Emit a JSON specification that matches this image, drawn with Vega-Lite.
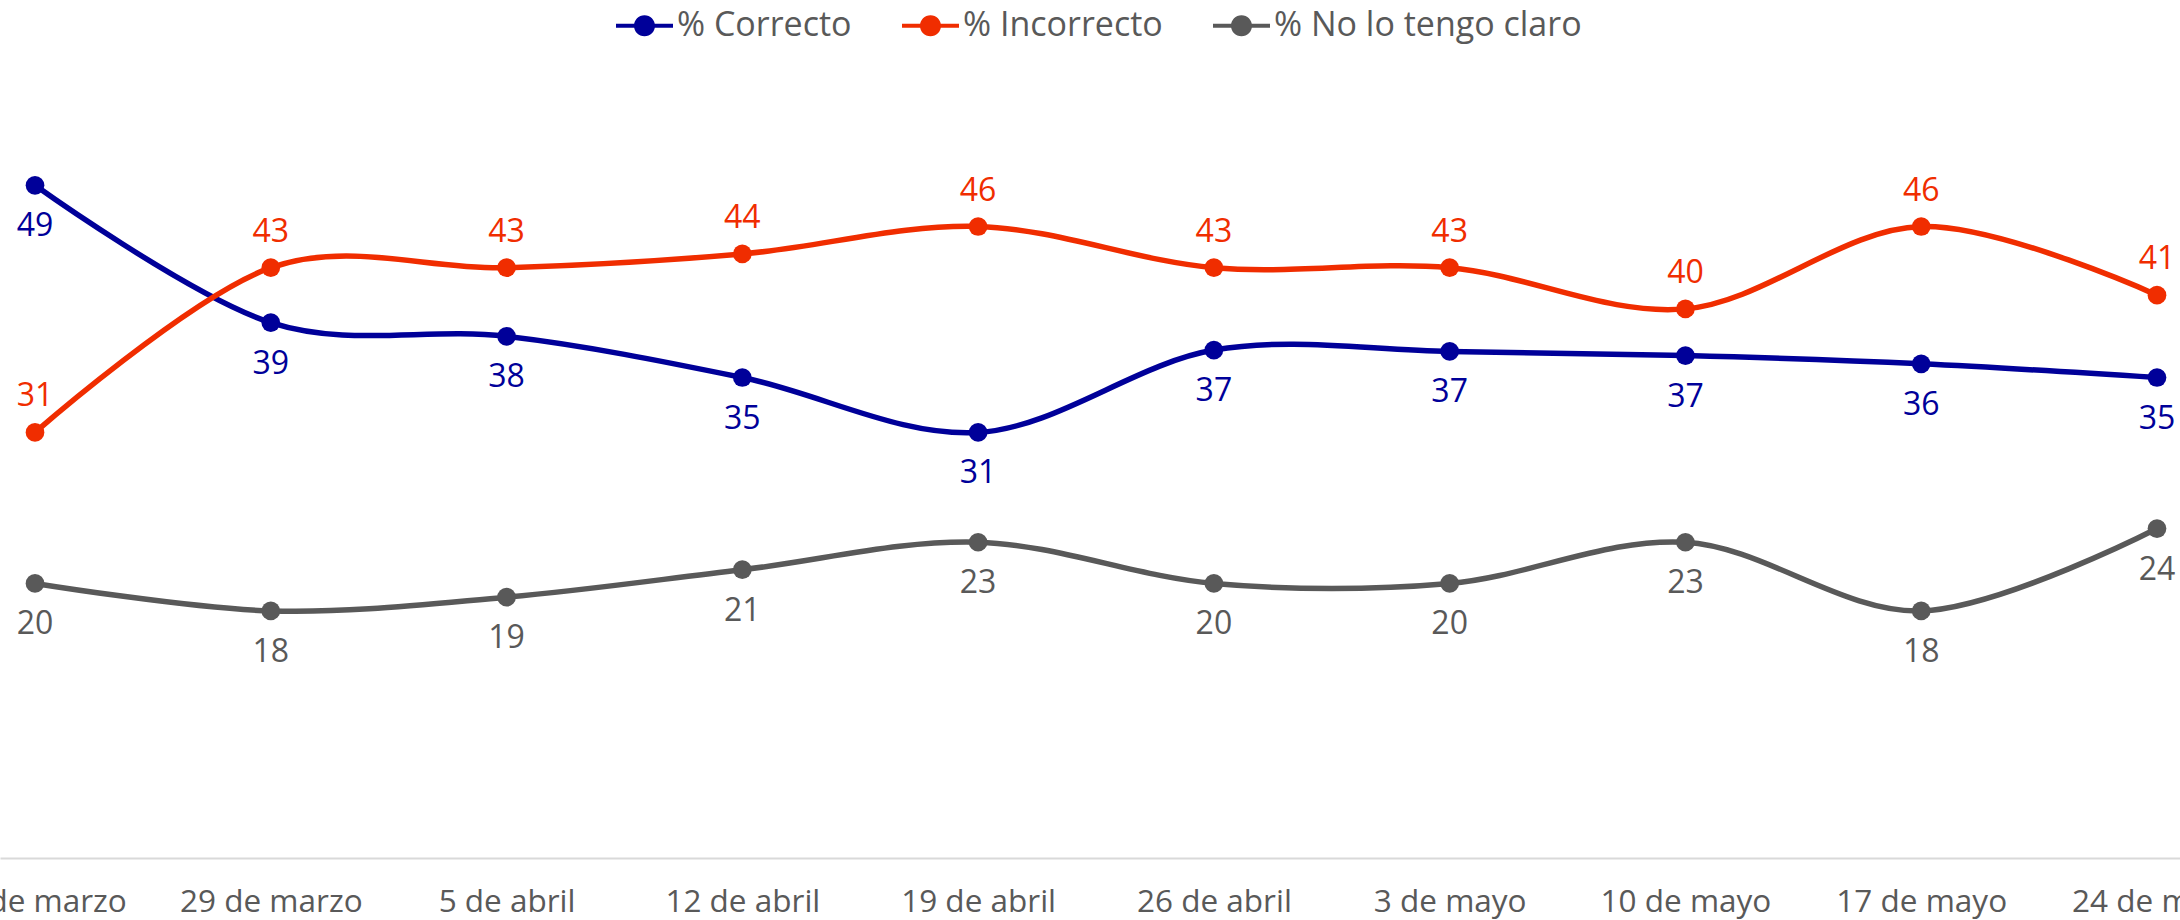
{
  "$schema": "https://vega.github.io/schema/vega-lite/v6.json",
  "width": 2192,
  "height": 858,
  "autosize": {"type": "none"},
  "padding": {"left": 0, "top": 0, "right": -12, "bottom": 62},
  "background": "white",
  "config": {"view": {"stroke": null}, "font": "Open Sans"},
  "data": {
    "values": [
      {"fecha": "22 de marzo", "serie": "% Correcto", "pct": 49},
      {"fecha": "29 de marzo", "serie": "% Correcto", "pct": 39},
      {"fecha": "5 de abril", "serie": "% Correcto", "pct": 38},
      {"fecha": "12 de abril", "serie": "% Correcto", "pct": 35},
      {"fecha": "19 de abril", "serie": "% Correcto", "pct": 31},
      {"fecha": "26 de abril", "serie": "% Correcto", "pct": 37},
      {"fecha": "3 de mayo", "serie": "% Correcto", "pct": 36.9},
      {"fecha": "10 de mayo", "serie": "% Correcto", "pct": 36.6},
      {"fecha": "17 de mayo", "serie": "% Correcto", "pct": 36},
      {"fecha": "24 de mayo", "serie": "% Correcto", "pct": 35},
      {"fecha": "22 de marzo", "serie": "% Incorrecto", "pct": 31},
      {"fecha": "29 de marzo", "serie": "% Incorrecto", "pct": 43},
      {"fecha": "5 de abril", "serie": "% Incorrecto", "pct": 43},
      {"fecha": "12 de abril", "serie": "% Incorrecto", "pct": 44},
      {"fecha": "19 de abril", "serie": "% Incorrecto", "pct": 46},
      {"fecha": "26 de abril", "serie": "% Incorrecto", "pct": 43},
      {"fecha": "3 de mayo", "serie": "% Incorrecto", "pct": 43},
      {"fecha": "10 de mayo", "serie": "% Incorrecto", "pct": 40},
      {"fecha": "17 de mayo", "serie": "% Incorrecto", "pct": 46},
      {"fecha": "24 de mayo", "serie": "% Incorrecto", "pct": 41},
      {"fecha": "22 de marzo", "serie": "% No lo tengo claro", "pct": 20},
      {"fecha": "29 de marzo", "serie": "% No lo tengo claro", "pct": 18},
      {"fecha": "5 de abril", "serie": "% No lo tengo claro", "pct": 19},
      {"fecha": "12 de abril", "serie": "% No lo tengo claro", "pct": 21},
      {"fecha": "19 de abril", "serie": "% No lo tengo claro", "pct": 23},
      {"fecha": "26 de abril", "serie": "% No lo tengo claro", "pct": 20},
      {"fecha": "3 de mayo", "serie": "% No lo tengo claro", "pct": 20},
      {"fecha": "10 de mayo", "serie": "% No lo tengo claro", "pct": 23},
      {"fecha": "17 de mayo", "serie": "% No lo tengo claro", "pct": 18},
      {"fecha": "24 de mayo", "serie": "% No lo tengo claro", "pct": 24}
    ]
  },
  "encoding": {
    "x": {
      "field": "fecha",
      "type": "ordinal",
      "sort": ["22 de marzo", "29 de marzo", "5 de abril", "12 de abril", "19 de abril", "26 de abril", "3 de mayo", "10 de mayo", "17 de mayo", "24 de mayo"],
      "scale": {"type": "point", "padding": 0.1485},
      "axis": {
        "title": null,
        "labelAngle": 0,
        "ticks": false,
        "tickSize": 0,
        "grid": false,
        "domainColor": "#d9d9d9",
        "domainWidth": 2,
        "labelFontSize": 31.5,
        "labelColor": "#595959",
        "labelFont": "Open Sans",
        "labelBaseline": "middle",
        "labelPadding": 44,
        "labelOverlap": false,
        "labelBound": false,
        "labelFlush": false,
        "labelLimit": 500
      }
    },
    "y": {
      "field": "pct",
      "type": "quantitative",
      "scale": {"domain": [0, 62.5], "nice": false, "zero": true},
      "axis": null
    },
    "color": {
      "field": "serie",
      "type": "nominal",
      "scale": {
        "domain": ["% Correcto", "% Incorrecto", "% No lo tengo claro"],
        "range": ["#000099", "#F02D00", "#595959"]
      },
      "legend": {
        "orient": "none",
        "legendX": 616,
        "legendY": -3,
        "direction": "horizontal",
        "title": null,
        "padding": 0,
        "symbolType": "M-1,-0.07H-0.3V0.07H-1Z M0.3,-0.07H1V0.07H0.3Z M-0.37,0A0.37,0.37 0 1,1 0.37,0A0.37,0.37 0 1,1 -0.37,0Z",
        "symbolSize": 3249,
        "symbolStrokeWidth": 0,
        "symbolOpacity": 1,
        "labelFontSize": 34,
        "labelFont": "Open Sans",
        "labelColor": "#595959",
        "labelOffset": 4,
        "columnPadding": 50,
        "labelLimit": 500,
        "encode": {
          "symbols": {
            "update": {
              "fill": {"scale": "color", "field": "value"},
              "stroke": {"value": "transparent"},
              "opacity": {"value": 1}
            }
          }
        }
      }
    }
  },
  "layer": [
    {"mark": {"type": "line", "interpolate": "cardinal", "strokeWidth": 5.5}},
    {"mark": {"type": "point", "filled": true, "size": 350, "opacity": 1}},
    {
      "transform": [{"filter": "datum.serie == '% Incorrecto'"}],
      "mark": {"type": "text", "dy": -36, "fontSize": 32, "font": "Open Sans", "baseline": "middle"},
      "encoding": {"text": {"field": "pct", "type": "quantitative", "format": ".0f"}}
    },
    {
      "transform": [{"filter": "datum.serie != '% Incorrecto'"}],
      "mark": {"type": "text", "dy": 41, "fontSize": 32, "font": "Open Sans", "baseline": "middle"},
      "encoding": {"text": {"field": "pct", "type": "quantitative", "format": ".0f"}}
    }
  ]
}
